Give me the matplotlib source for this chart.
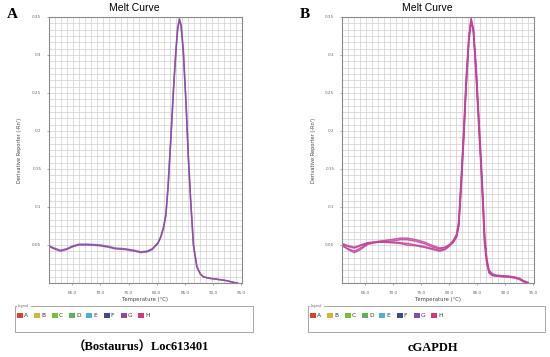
import numpy as np
import matplotlib
matplotlib.use("Agg")
import matplotlib.pyplot as plt
from matplotlib.patches import Rectangle

# ---- data ----
temp_a = [60.9, 61.8, 62.9, 64.0, 65.2, 66.2, 68.0, 70.0, 71.5, 72.6, 74.4, 76.0,
          77.2, 78.3, 79.2, 80.2, 80.7, 81.2, 81.6, 82.0, 82.5, 83.0, 83.4, 83.7,
          84.0, 84.3, 84.7, 85.2, 85.6, 86.0, 86.5, 87.1, 87.7, 88.3, 89.5, 90.6,
          91.5, 92.4, 93.2, 93.8, 94.3]
melt_a1 = [0.048, 0.045, 0.042, 0.044, 0.048, 0.050, 0.050, 0.049, 0.047, 0.045,
           0.044, 0.042, 0.040, 0.041, 0.044, 0.052, 0.060, 0.072, 0.088, 0.125,
           0.190, 0.258, 0.305, 0.333, 0.348, 0.340, 0.307, 0.235, 0.166, 0.110,
           0.050, 0.022, 0.012, 0.008, 0.006, 0.005, 0.004, 0.003, 0.0015, 0.0005, 0.0]
melt_a2 = [0.049, 0.046, 0.043, 0.045, 0.049, 0.051, 0.051, 0.050, 0.048, 0.046,
           0.045, 0.043, 0.041, 0.042, 0.045, 0.053, 0.061, 0.074, 0.090, 0.128,
           0.193, 0.262, 0.308, 0.336, 0.346, 0.338, 0.304, 0.232, 0.163, 0.108,
           0.049, 0.021, 0.012, 0.008, 0.006, 0.005, 0.004, 0.003, 0.0015, 0.0005, 0.0]

temp_b = [60.9, 62.0, 63.1, 64.2, 65.5, 67.5, 69.6, 71.3, 72.5, 74.0, 75.5, 77.1,
          78.3, 79.3, 80.1, 80.7, 81.3, 81.7, 82.1, 82.6, 83.0, 83.5, 83.9, 84.3,
          84.8, 85.3, 85.7, 86.0, 86.3, 86.7, 87.1, 87.7, 88.5, 90.3, 91.5, 92.5,
          93.2, 94.0]
melt_b1 = [0.051, 0.048, 0.046, 0.049, 0.053, 0.054, 0.054, 0.053, 0.052, 0.050,
           0.048, 0.045, 0.043, 0.045, 0.050, 0.055, 0.062, 0.078, 0.130, 0.200,
           0.262, 0.322, 0.349, 0.332, 0.270, 0.200, 0.145, 0.100, 0.050, 0.025,
           0.013, 0.010, 0.009, 0.008, 0.007, 0.005, 0.002, 0.000]
melt_b2 = [0.049, 0.045, 0.042, 0.046, 0.052, 0.055, 0.057, 0.059, 0.059, 0.057,
           0.054, 0.049, 0.046, 0.047, 0.050, 0.053, 0.060, 0.075, 0.120, 0.190,
           0.255, 0.318, 0.342, 0.335, 0.285, 0.215, 0.160, 0.115, 0.065, 0.032,
           0.017, 0.012, 0.010, 0.009, 0.008, 0.006, 0.003, 0.000]
melt_b3 = [0.050, 0.044, 0.040, 0.044, 0.051, 0.054, 0.055, 0.057, 0.057, 0.055,
           0.052, 0.047, 0.045, 0.047, 0.051, 0.056, 0.064, 0.082, 0.135, 0.205,
           0.268, 0.325, 0.346, 0.330, 0.280, 0.210, 0.155, 0.110, 0.060, 0.029,
           0.015, 0.011, 0.010, 0.009, 0.008, 0.006, 0.003, 0.001]
melt_b4 = [0.052, 0.049, 0.047, 0.050, 0.053, 0.054, 0.053, 0.052, 0.050, 0.049,
           0.047, 0.044, 0.042, 0.044, 0.049, 0.054, 0.061, 0.076, 0.125, 0.195,
           0.258, 0.320, 0.347, 0.334, 0.275, 0.205, 0.150, 0.105, 0.055, 0.027,
           0.014, 0.010, 0.009, 0.008, 0.007, 0.005, 0.002, 0.000]

x_ticks = [65.0, 70.0, 75.0, 80.0, 85.0, 90.0, 95.0]
y_ticks = [0.05, 0.1, 0.15, 0.2, 0.25, 0.3, 0.35]
y_ticklabels = ["0.05", "0.1", "0.15", "0.2", "0.25", "0.3", "0.35"]
wells = ["A", "B", "C", "D", "E", "F", "G", "H"]
well_colors = ["#d8412f", "#d2b53a", "#79be3b", "#56b45a", "#4fb0d6",
               "#384a98", "#8a4aa6", "#d53680"]

W, H = 550, 357
fig = plt.figure(figsize=(5.5, 3.57), dpi=100)
fig.patch.set_facecolor("white")


def fx(px):
    return px / W


def fy(py):
    return 1 - py / H


def melt_panel(left_px, right_px, temps, curves, color, letter, caption):
    ax = fig.add_axes([fx(left_px), fy(283), fx(right_px - left_px), (283 - 17) / H])
    for vals in curves:
        ax.plot(temps, vals, color=color, lw=1.1, alpha=0.85)
    ax.set_xlim(60.9, 95.1)
    ax.set_ylim(0, 0.35)
    for g in np.linspace(60.9, 95.1, 33)[1:-1]:
        ax.axvline(g, color="#cfcfcf", lw=0.5, zorder=0)
    for g in np.linspace(0, 0.35, 43)[1:-1]:
        ax.axhline(g, color="#cfcfcf", lw=0.5, zorder=0)
    ax.set_xticks(x_ticks)
    ax.set_xticklabels([f"{t:.1f}" for t in x_ticks])
    ax.set_yticks(y_ticks)
    ax.set_yticklabels(y_ticklabels)
    ax.tick_params(labelsize=3.0, length=1.5, width=0.4, colors="#666666", pad=4)
    for s in ax.spines.values():
        s.set_color("#8a8a8a")
        s.set_linewidth(0.8)
    cx = (left_px + right_px) / 2
    fig.text(fx(cx - 11), fy(8), "Melt Curve", ha="center", va="center",
             fontsize=7.5, family="Liberation Sans")
    fig.text(fx(cx), fy(300), "Temperature (°C)", ha="center", va="center",
             fontsize=3.8, color="#444444")
    fig.text(fx(left_px - 29), fy(150), "Derivative Reporter (-Rn')", ha="center",
             va="center", rotation=90, fontsize=3.6, color="#444444")
    fig.text(fx(left_px - 37), fy(15), letter, ha="center", va="center",
             fontsize=11, fontweight="bold", family="Liberation Serif")
    # legend box
    bx0, bx1 = left_px - 34, right_px + 11
    fig.add_artist(Rectangle((fx(bx0), fy(332)), fx(bx1 - bx0), (332 - 306) / H,
                             transform=fig.transFigure, fill=False,
                             ec="#999999", lw=0.6))
    fig.add_artist(Rectangle((fx(bx0 + 2), fy(307.5)), fx(14), 3 / H,
                             transform=fig.transFigure, color="white", lw=0))
    fig.text(fx(bx0 + 3), fy(306), "Legend", fontsize=2.2, color="#666666",
             va="center", ha="left")
    for i, (w, c) in enumerate(zip(wells, well_colors)):
        x0 = bx0 + 2 + i * 17.3
        fig.add_artist(Rectangle((fx(x0), fy(318)), fx(6), 5 / H,
                                 transform=fig.transFigure, color=c, lw=0))
        fig.text(fx(x0 + 7), fy(315.5), w, fontsize=4.2, va="center", ha="left",
                 color="#333333")
    fig.text(fx(cx - 5), fy(348), caption, ha="center", va="center", fontsize=9,
             fontweight="bold", family=["Liberation Serif", "Noto Sans CJK SC"])
    return ax


melt_panel(49, 242, temp_a, [melt_a1, melt_a2], "#8a4aa6", "A",
           "（Bostaurus）Loc613401")
melt_panel(342, 534, temp_b, [melt_b1, melt_b2, melt_b3, melt_b4], "#c2439a", "B",
           "cGAPDH")

fig.savefig("out.png", dpi=100)
